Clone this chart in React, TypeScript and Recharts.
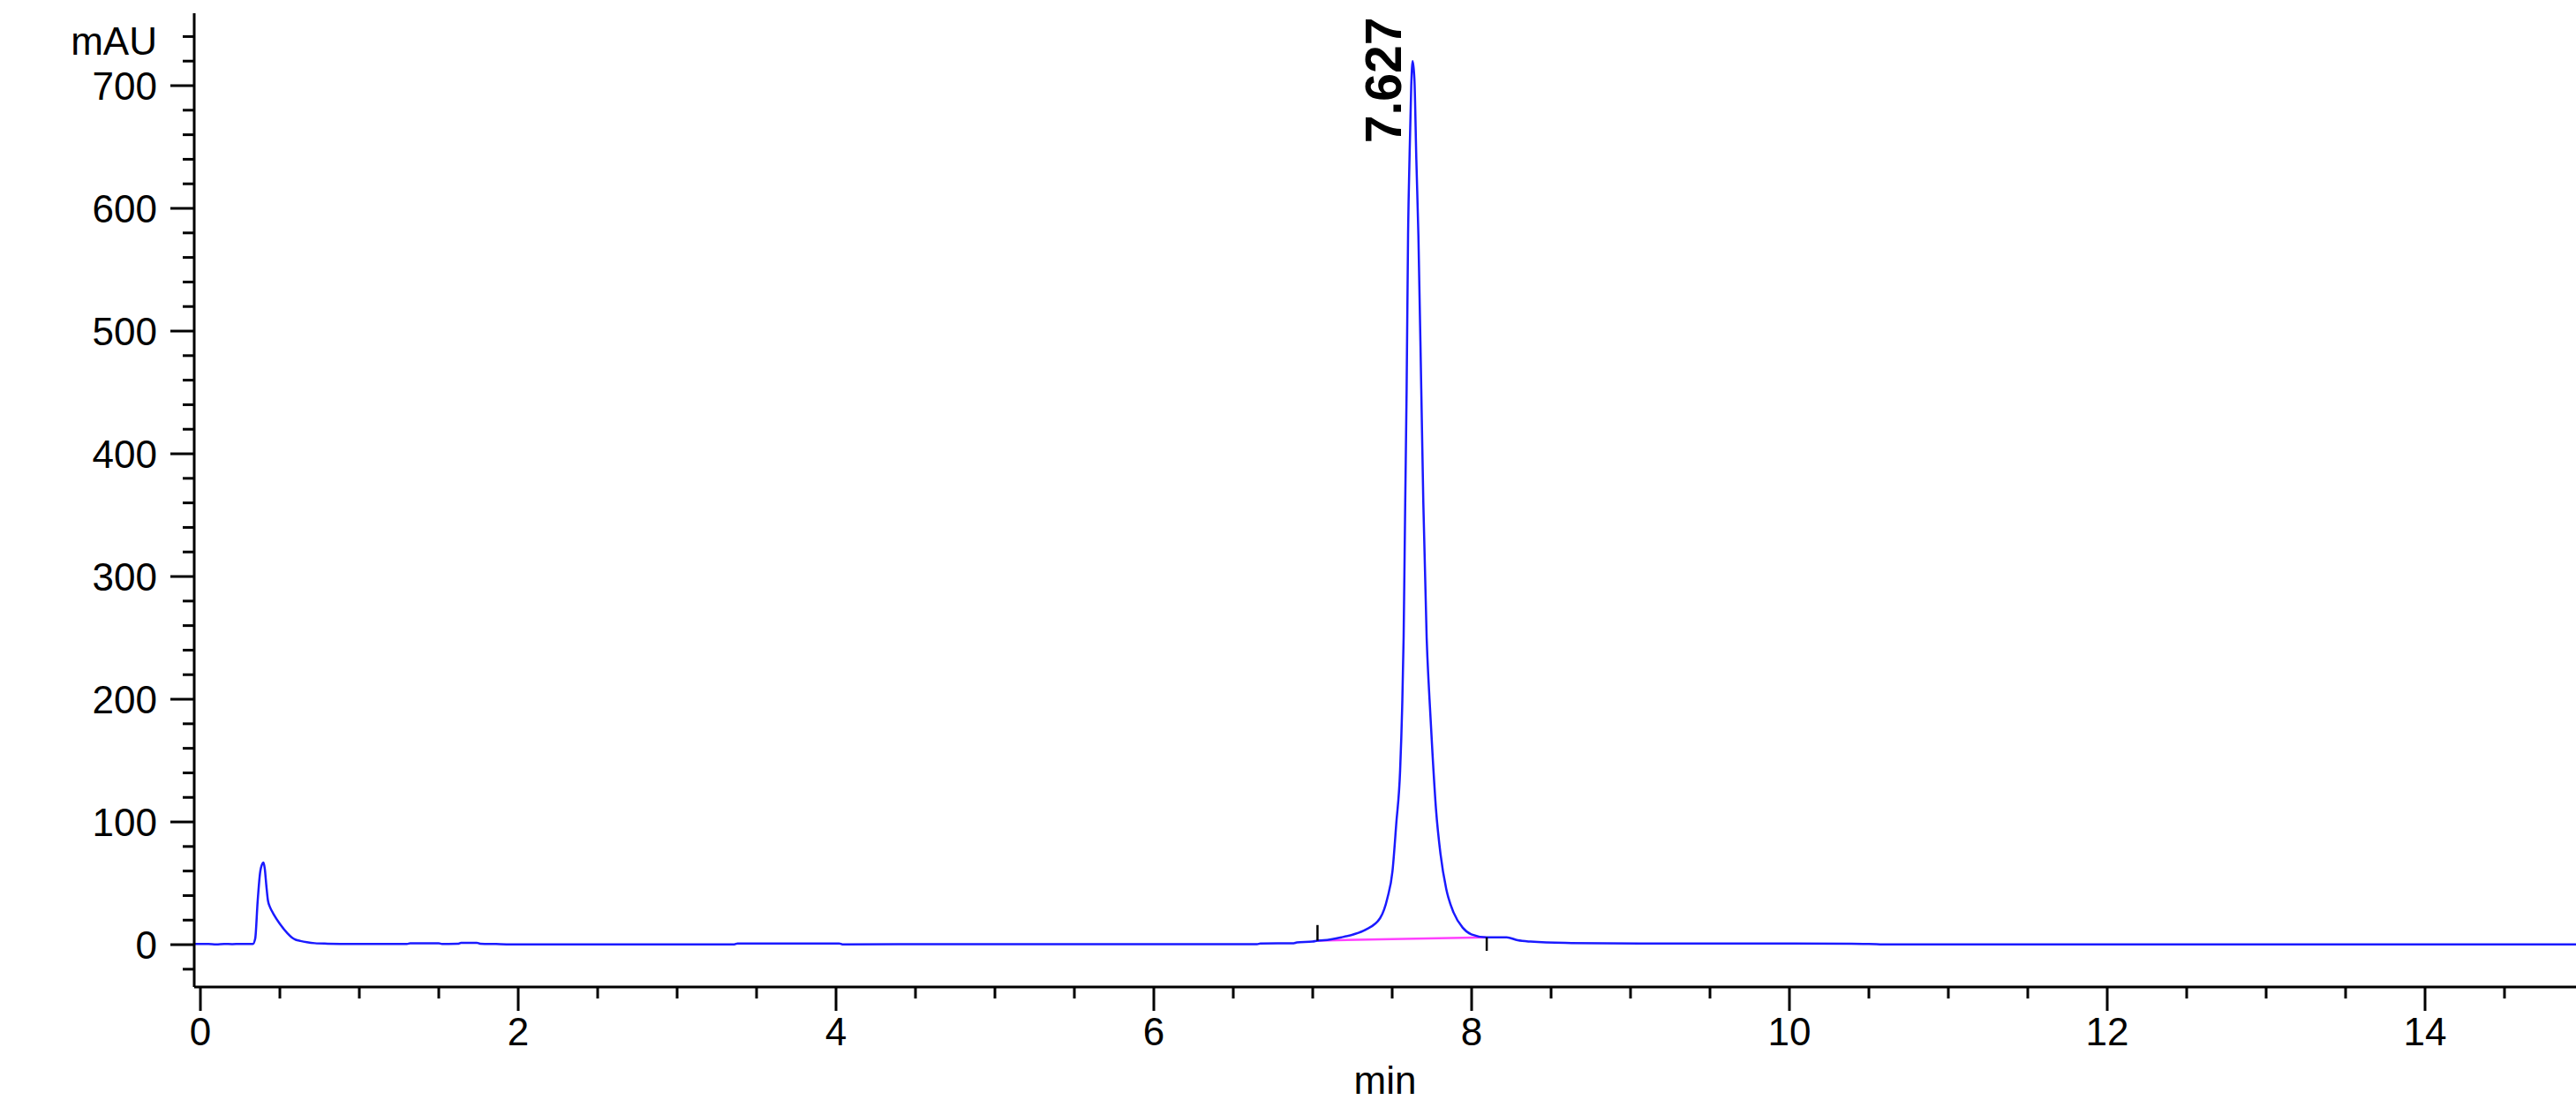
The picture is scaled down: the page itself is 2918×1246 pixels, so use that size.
import React from "react";
import { LineChart, Line, XAxis, YAxis, ReferenceLine, ReferenceDot } from "recharts";

// Chromatogram trace (time in min, absorbance in mAU)
const timeMin = [
  -0.04, 0.05, 0.1, 0.15, 0.2, 0.25, 0.3, 0.33, 0.345, 0.36, 0.375, 0.39, 0.397, 0.405, 0.415, 0.425,
  0.44, 0.46, 0.5, 0.55, 0.574, 0.6, 0.63, 0.67, 0.72, 0.8, 0.96, 1.3, 1.32, 1.5, 1.52, 1.62, 1.64,
  1.74, 1.76, 1.86, 2.01, 2.28, 3.36, 3.38, 4.02, 4.04, 6.65, 6.67, 6.88, 6.9, 7.0,
  7.03, 7.07, 7.18, 7.26, 7.33, 7.424, 7.47, 7.502, 7.526, 7.55, 7.563, 7.572, 7.582, 7.591, 7.6,
  7.609, 7.62, 7.629, 7.64, 7.652, 7.665, 7.683, 7.696, 7.717, 7.735, 7.754, 7.776, 7.804, 7.84,
  7.887, 7.943, 7.998, 8.09, 8.22, 8.29, 8.37, 8.59, 9.06, 10.39, 10.5, 10.62, 12.0, 14.96,
];
const absorbance = [
  0.6, 0.5, 0.2, 0.6, 0.4, 0.6, 0.6, 0.5, 5, 35, 58, 66, 67, 62, 48, 36,
  30, 25, 17, 9, 6, 4, 3, 2, 1.2, 0.8, 0.5, 0.5, 1.1, 1.1, 0.6, 0.7, 1.5,
  1.5, 0.8, 0.5, 0.2, 0.3, 0.3, 1.0, 1.0, 0.3, 0.4, 1.0, 1.2, 1.8, 2.5,
  3.3, 3.6, 6, 8.5, 12, 21.6, 38, 60, 99, 142, 194, 250, 360, 453, 578,
  640, 700, 720, 705, 640, 578, 453, 360, 250, 200, 155, 110, 74, 45.5,
  26, 14, 8.4, 6, 6, 3.6, 2.5, 1.4, 1.0, 0.8, 0.6, 0.2, 0.2, 0.2,
];

// Integration baseline (pink)
const baselineTimes = [7.03, 8.09];
const baselineValues = [3.3, 6];

// Integration start / stop marks
const startMarkTime = 7.03;
const startMarkRange = [3.3, 16];
const stopMarkTime = 8.095;
const stopMarkRange = [6, -5];

// Peak annotation
const peakTime = 7.627;
const peakHeight = 720;
const peakLabel = "7.627";

// Axis ticks
const xTicks = [
  0, 0.5, 1, 1.5, 2, 2.5, 3, 3.5, 4, 4.5, 5, 5.5, 6, 6.5, 7, 7.5, 8, 8.5, 9, 9.5, 10, 10.5, 11, 11.5,
  12, 12.5, 13, 13.5, 14, 14.5,
];
const xMajorLabels = [0, 2, 4, 6, 8, 10, 12, 14];
const yTicks = [
  -20, 0, 20, 40, 60, 80, 100, 120, 140, 160, 180, 200, 220, 240, 260, 280, 300, 320, 340, 360, 380,
  400, 420, 440, 460, 480, 500, 520, 540, 560, 580, 600, 620, 640, 660, 680, 700, 720, 740,
];
const yMajorLabels = [0, 100, 200, 300, 400, 500, 600, 700];

const xDomain = [-0.039, 14.95];
const yDomain = [-34.5, 759];

const traceData = timeMin.map((t, i) => ({ t, v: absorbance[i] }));
const baselineData = baselineTimes.map((t, i) => ({ t, v: baselineValues[i] }));

const FONT = "'Liberation Sans', Arial, sans-serif";

const YTick = (props: any) => {
  const { x, y, payload } = props;
  const v = payload.value;
  const major = yMajorLabels.includes(v);
  return (
    <g>
      <line x1={x} x2={x - (major ? 27 : 13)} y1={y} y2={y} stroke="#000" strokeWidth={3} />
      {major && (
        <text x={x - 42} y={y + 16} textAnchor="end" fontSize={44} fontFamily={FONT} fill="#000">
          {v}
        </text>
      )}
    </g>
  );
};

const XTick = (props: any) => {
  const { x, y, payload } = props;
  const v = payload.value;
  const major = xMajorLabels.includes(v);
  return (
    <g>
      <line x1={x} x2={x} y1={y} y2={y + (major ? 27 : 13)} stroke="#000" strokeWidth={3} />
      {major && (
        <text x={x} y={y + 66} textAnchor="middle" fontSize={44} fontFamily={FONT} fill="#000">
          {v}
        </text>
      )}
    </g>
  );
};

const YUnitLabel = (props: any) => {
  const vb = props.viewBox;
  return (
    <text x={vb.x + vb.width - 42} y={vb.y + 47} textAnchor="end" fontSize={44} fontFamily={FONT} fill="#000">
      mAU
    </text>
  );
};

const XUnitLabel = (props: any) => {
  const vb = props.viewBox;
  return (
    <text x={vb.x + vb.width / 2} y={vb.y + 121} textAnchor="middle" fontSize={44} fontFamily={FONT} fill="#000">
      min
    </text>
  );
};

const PeakLabel = (props: any) => {
  const vb = props.viewBox;
  const cx = vb.x + (vb.width || 0) / 2;
  const cy = vb.y + (vb.height || 0) / 2;
  return (
    <text
      transform={`translate(${cx - 13}, ${cy + 93}) rotate(-90)`}
      textAnchor="start"
      fontSize={57}
      fontWeight="bold"
      fontFamily={FONT}
      fill="#000"
    >
      {peakLabel}
    </text>
  );
};

export default function App() {
  return (
    <div style={{ position: "absolute", left: 0, top: 0, width: 2918, height: 1246, background: "#fff" }}>
      <LineChart width={2918} height={1246} data={traceData} margin={{ top: 15, right: 0, left: 0, bottom: 0 }}>
        <XAxis
          dataKey="t"
          type="number"
          domain={xDomain}
          allowDataOverflow
          ticks={xTicks}
          interval={0}
          tick={<XTick />}
          tickLine={false}
          tickSize={0}
          tickMargin={0}
          height={128}
          axisLine={{ stroke: "#000", strokeWidth: 3 }}
          label={<XUnitLabel />}
        />
        <YAxis
          type="number"
          domain={yDomain}
          allowDataOverflow
          ticks={yTicks}
          interval={0}
          tick={<YTick />}
          tickLine={false}
          tickSize={0}
          tickMargin={0}
          width={220}
          axisLine={{ stroke: "#000", strokeWidth: 3 }}
          label={<YUnitLabel />}
        />
        <Line
          data={baselineData}
          dataKey="v"
          stroke="#ff40ff"
          strokeWidth={2.5}
          dot={false}
          isAnimationActive={false}
        />
        <Line
          type="monotone"
          dataKey="v"
          stroke="#1a1aff"
          strokeWidth={2.5}
          dot={false}
          strokeLinejoin="round"
          isAnimationActive={false}
        />
        <ReferenceLine
          segment={[
            { x: startMarkTime, y: startMarkRange[0] },
            { x: startMarkTime, y: startMarkRange[1] },
          ]}
          stroke="#000"
          strokeWidth={2.5}
        />
        <ReferenceLine
          segment={[
            { x: stopMarkTime, y: stopMarkRange[0] },
            { x: stopMarkTime, y: stopMarkRange[1] },
          ]}
          stroke="#000"
          strokeWidth={2.5}
        />
        <ReferenceDot x={peakTime} y={peakHeight} r={1} fill="none" stroke="none" label={<PeakLabel />} />
      </LineChart>
    </div>
  );
}
